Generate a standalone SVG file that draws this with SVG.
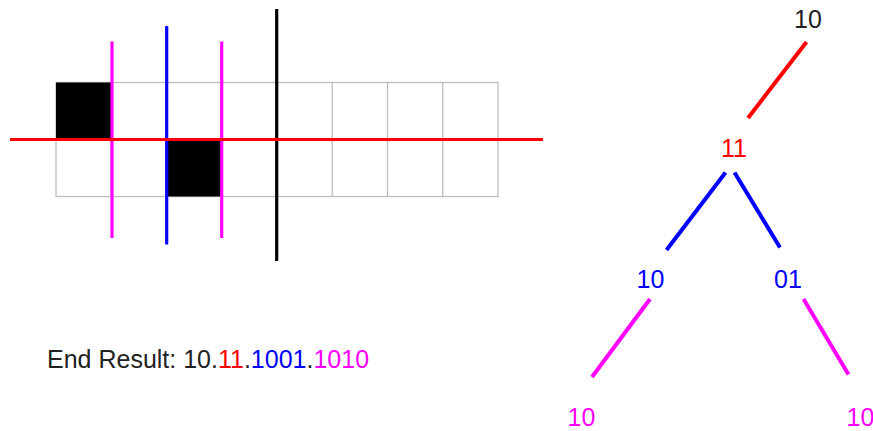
<svg xmlns="http://www.w3.org/2000/svg" width="873" height="431" viewBox="0 0 873 431">
<style>
text{font-family:"Liberation Sans",Arial,sans-serif;font-size:25px}
.grid{fill:none;stroke:#bdbdbd;stroke-width:1.3}
.cut{stroke-width:3.2;fill:none}
.edge{stroke-width:4;fill:none}
.r{stroke:#ff0000}.b{stroke:#0000ff}.m{stroke:#ff00ff}.k{stroke:#000}
.tr{fill:#ff0000}.tb{fill:#0000ff}.tm{fill:#ff00ff}.tk{fill:#222}
</style>
<g id="grid">
<rect x="56" y="82.5" width="442" height="114" class="grid"/>
<path class="grid" d="M56 139.5H498M111.25 82.5V196.5M166.5 82.5V196.5M221.75 82.5V196.5M277 82.5V196.5M332.25 82.5V196.5M387.5 82.5V196.5M442.75 82.5V196.5"/>
<rect x="56" y="82.5" width="55.25" height="57" fill="#000"/>
<rect x="166.5" y="139.5" width="55.25" height="57" fill="#000"/>
<line class="cut m" x1="112" y1="41.5" x2="112" y2="238"/>
<line class="cut b" x1="166.7" y1="26" x2="166.7" y2="244.5"/>
<line class="cut m" x1="221.7" y1="41.5" x2="221.7" y2="238"/>
<line class="cut k" x1="276.7" y1="9" x2="276.7" y2="261"/>
<line class="cut r" x1="10" y1="139.5" x2="543" y2="139.5"/>
</g>
<g id="result">
<text x="47" y="368" class="tk">End Result: 10.<tspan class="tr">11</tspan>.<tspan class="tb">1001</tspan>.<tspan class="tm">1010</tspan></text>
</g>
<g id="connectors">
<line class="edge r" x1="806.5" y1="42" x2="748" y2="118"/>
<line class="edge b" x1="725.5" y1="172.5" x2="666.5" y2="250"/>
<line class="edge b" x1="734.5" y1="172.5" x2="780" y2="247.5"/>
<line class="edge m" x1="650" y1="299" x2="592" y2="377"/>
<line class="edge m" x1="803.5" y1="299" x2="848.5" y2="374.5"/>
</g>
<g id="node-root"><text x="808" y="28" text-anchor="middle" class="tk">10</text></g>
<g id="node-11"><text x="734" y="157" text-anchor="middle" class="tr">11</text></g>
<g id="node-10a"><text x="650.5" y="288" text-anchor="middle" class="tb">10</text></g>
<g id="node-01"><text x="788" y="288" text-anchor="middle" class="tb">01</text></g>
<g id="node-10b"><text x="581.5" y="426" text-anchor="middle" class="tm">10</text></g>
<g id="node-10c"><text x="860.5" y="426" text-anchor="middle" class="tm">10</text></g>
</svg>
